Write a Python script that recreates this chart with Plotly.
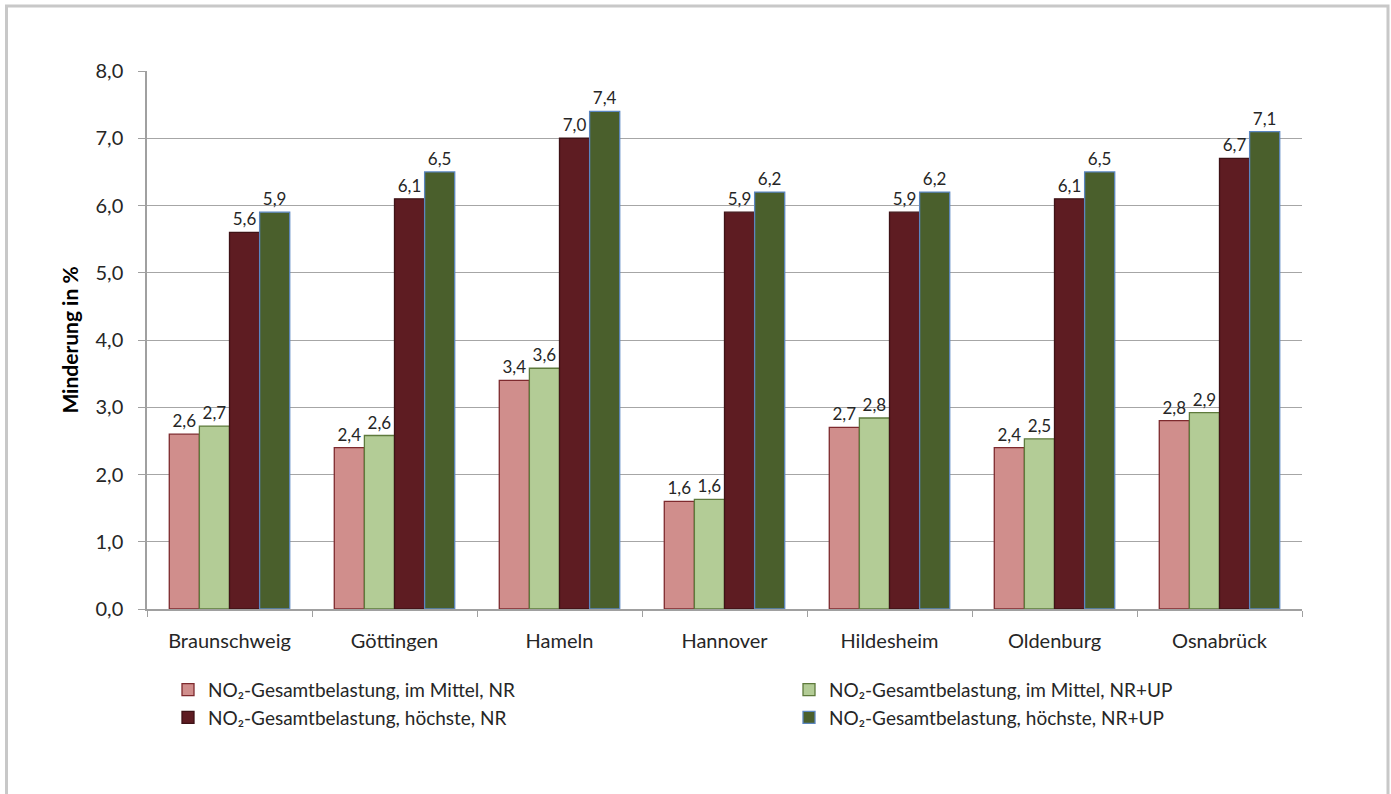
import plotly.graph_objects as go

categories = ["Braunschweig", "Göttingen", "Hameln", "Hannover", "Hildesheim", "Oldenburg", "Osnabrück"]
mittel_nr = [2.6, 2.4, 3.4, 1.6, 2.7, 2.4, 2.8]
mittel_nr_up = [2.72, 2.58, 3.58, 1.63, 2.84, 2.53, 2.92]
hoechste_nr = [5.6, 6.1, 7.0, 5.9, 5.9, 6.1, 6.7]
hoechste_nr_up = [5.9, 6.5, 7.4, 6.2, 6.2, 6.5, 7.1]
series_names = [
    "NO₂-Gesamtbelastung, im Mittel, NR",
    "NO₂-Gesamtbelastung, im Mittel, NR+UP",
    "NO₂-Gesamtbelastung, höchste, NR",
    "NO₂-Gesamtbelastung, höchste, NR+UP",
]
y_ticks = [0, 1, 2, 3, 4, 5, 6, 7, 8]

FONT = "Lato, 'Open Sans', sans-serif"
TXT = "#262626"
fills = ["#D08E8C", "#B3CC96", "#5E1C22", "#4A5F2C"]
lines = ["#7E2A2E", "#5E7A3C", "#3E1216", "#5B86C0"]
legend_ids = ["legend", "legend2", "legend", "legend2"]

fig = go.Figure()
for name, vals, fc, lc, lg in zip(series_names, [mittel_nr, mittel_nr_up, hoechste_nr, hoechste_nr_up], fills, lines, legend_ids):
    fig.add_trace(go.Bar(
        x=categories, y=vals, name=name, legend=lg,
        marker=dict(color=fc, line=dict(color=lc, width=1.3)),
        texttemplate="%{y:.1f}", textposition="outside",
        textfont=dict(family=FONT, size=17, color=TXT),
        cliponaxis=False,
    ))

legend_common = dict(
    orientation="v", y=-0.115, yanchor="top", xanchor="left",
    font=dict(family=FONT, size=19, color=TXT),
    traceorder="normal", tracegroupgap=0, bgcolor="rgba(0,0,0,0)",
)

fig.update_layout(
    width=1391, height=794,
    margin=dict(l=147, r=89, t=71, b=185),
    paper_bgcolor="white", plot_bgcolor="white",
    separators=",.",
    barmode="group", bargap=0.27, bargroupgap=0,
    font=dict(family=FONT, size=16, color=TXT),
    showlegend=True,
    legend=dict(x=(168 - 147) / 1155, **legend_common),
    legend2=dict(x=(789 - 147) / 1155, **legend_common),
    xaxis=dict(
        type="category", showgrid=False, showline=True, linecolor="#A0A0A0", linewidth=1.5,
        ticks="outside", tickson="boundaries", ticklen=6, tickcolor="#A0A0A0",
        ticklabelstandoff=13,
        tickfont=dict(family=FONT, size=20, color=TXT),
    ),
    yaxis=dict(
        range=[0, 8], tickvals=y_ticks, tickformat=".1f",
        showgrid=True, gridcolor="#A6A6A6", gridwidth=1.3,
        showline=True, linecolor="#A0A0A0", linewidth=1.5,
        ticks="outside", ticklen=7, tickcolor="#A0A0A0",
        ticklabelstandoff=11,
        tickfont=dict(family=FONT, size=20, color=TXT),
        title=dict(text="<b>Minderung in %</b>", font=dict(family=FONT, size=21, color="#000000"), standoff=11),
        zeroline=False,
    ),
    shapes=[dict(
        type="rect", xref="paper", yref="paper",
        x0=(6.5 - 147) / 1155, x1=(1388 - 147) / 1155,
        y0=(609 - 800) / 538, y1=(609 - 6) / 538,
        line=dict(color="#C8C8C8", width=3), fillcolor="rgba(0,0,0,0)", layer="below",
    )],
)

fig.write_html("out.html")
